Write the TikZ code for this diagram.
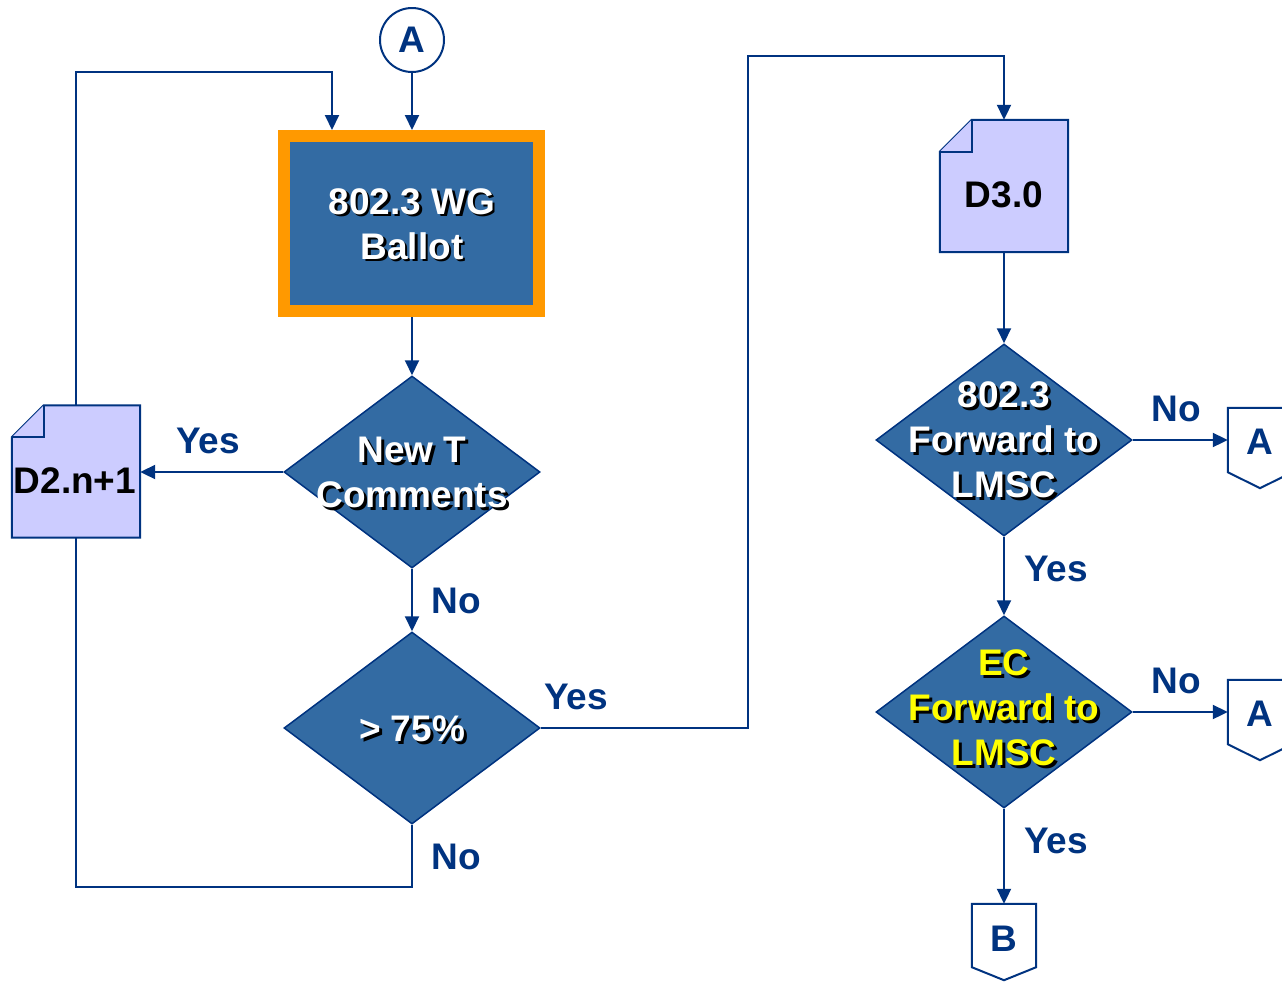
\documentclass[tikz,border=0pt]{standalone}
\usepackage{fontspec}
\setmainfont{Liberation Sans}
\usetikzlibrary{shapes.geometric,arrows.meta}
\definecolor{navy}{RGB}{0,51,128}
\definecolor{boxblue}{RGB}{51,107,163}
\definecolor{doclav}{RGB}{204,204,255}
\definecolor{orangeframe}{RGB}{255,153,0}
\definecolor{ecyellow}{RGB}{255,255,0}
\begin{document}
\begin{tikzpicture}[x=1pt,y=-1pt,
  big/.style={font=\fontsize{37}{45}\selectfont\bfseries},
  conn/.style={draw=navy,line width=2pt,-{Triangle[length=15pt,width=14pt]}},
  plainline/.style={draw=navy,line width=2pt},
  dia/.style={diamond,draw=navy,line width=1.5pt,fill=boxblue,inner sep=0pt,minimum width=256pt,minimum height=192pt},
  dtext/.style={big,align=center,text=white,inner sep=0pt},
  dshadow/.style={big,align=center,text=black,inner sep=0pt},
  lbl/.style={big,text=navy,inner sep=0pt},
  docbox/.style={draw=none,inner sep=0pt,minimum width=128pt,minimum height=132pt},
  docline/.style={draw=navy,line width=2pt,fill=doclav,line join=miter},
  offbox/.style={draw=none,inner sep=0pt},
  offline/.style={draw=navy,line width=2pt,fill=white},
]
\useasboundingbox[fill=white] (0,0) rectangle (1282,983);

% connector A (circle)
\node[circle,draw=navy,line width=2pt,minimum size=64pt,inner sep=0pt,big,text=navy] (ca) at (412,40) {A};

% ballot box
\node[draw=orangeframe,line width=12pt,fill=boxblue,minimum width=255pt,minimum height=175pt,inner sep=0pt] (bal) at (411.5,223.5) {};
\node[dshadow] (bals) at (414.5,226.5) {802.3 WG\\Ballot};
\node[dtext] (balt) at (412,224) {802.3 WG\\Ballot};

% diamonds
\node[dia] (d1) at (412,472) {};
\node[dshadow] (d1s) at (415,475.5) {New T\\Comments};
\node[dtext] (d1t) at (412,472.5) {New T\\Comments};

\node[dia] (d2) at (412,728) {};
\node[dshadow] (d2s) at (415,732) {> 75\%};
\node[dtext] (d2t) at (412,729) {> 75\%};

\node[dia] (d3) at (1004,440) {};
\node[dshadow] (d3s) at (1007,443) {802.3\\Forward to\\LMSC};
\node[dtext] (d3t) at (1004,440) {802.3\\Forward to\\LMSC};

\node[dia] (d4) at (1004,712) {};
\node[dshadow] (d4s) at (1007,711) {EC\\Forward to\\LMSC};
\node[dtext,text=ecyellow] (d4t) at (1004,708) {EC\\Forward to\\LMSC};

% documents
\node[docbox] (doc1) at (76,471.5) {};
\draw[docline] ([yshift=-32pt]doc1.north west) -- ([xshift=32pt]doc1.north west) -- (doc1.north east) -- (doc1.south east) -- (doc1.south west) -- cycle;
\draw[docline] ([xshift=32pt]doc1.north west) -- ([xshift=32pt,yshift=-32pt]doc1.north west) -- ([yshift=-32pt]doc1.north west);
\node[big,text=black,inner sep=0pt] (doc1t) at (75,481) {D2.n+1};

\node[docbox] (doc2) at (1004,186) {};
\draw[docline] ([yshift=-32pt]doc2.north west) -- ([xshift=32pt]doc2.north west) -- (doc2.north east) -- (doc2.south east) -- (doc2.south west) -- cycle;
\draw[docline] ([xshift=32pt]doc2.north west) -- ([xshift=32pt,yshift=-32pt]doc2.north west) -- ([yshift=-32pt]doc2.north west);
\node[big,text=black,inner sep=0pt] (doc2t) at (1004,195) {D3.0};

% off-page connectors
\node[offbox,minimum width=64pt,minimum height=80pt] (oa1) at (1260,448) {};
\draw[offline] (oa1.north west) -- (oa1.north east) -- ([yshift=16pt]oa1.south east) -- (oa1.south) -- ([yshift=16pt]oa1.south west) -- cycle;
\node[big,text=navy,inner sep=0pt] (oa1t) at (1260,442) {A};

\node[offbox,minimum width=64pt,minimum height=80pt] (oa2) at (1260,720) {};
\draw[offline] (oa2.north west) -- (oa2.north east) -- ([yshift=16pt]oa2.south east) -- (oa2.south) -- ([yshift=16pt]oa2.south west) -- cycle;
\node[big,text=navy,inner sep=0pt] (oa2t) at (1260,714) {A};

\node[offbox,minimum width=64pt,minimum height=76pt] (ob) at (1004,942) {};
\draw[offline] (ob.north west) -- (ob.north east) -- ([yshift=13pt]ob.south east) -- (ob.south) -- ([yshift=13pt]ob.south west) -- cycle;
\node[big,text=navy,inner sep=0pt] (obt) at (1004,939) {B};

% connectors
\coordinate (lp) at (332,72);
\coordinate (lb) at (76,887);
\coordinate (rt) at (748,56);
\draw[conn] (ca.south) -- (ca.south |- bal.north);
\draw[conn] (doc1.north) |- (lp) -- (lp |- bal.north);
\draw[conn] (bal.south -| d1.north) -- (d1.north);
\draw[conn] (d1.west) -- (d1.west -| doc1.east);
\draw[conn] (d1.south) -- (d2.north);
\draw[plainline] (d2.south) |- (lb) -- (doc1.south);
\draw[conn] (d2.east) -| (rt) -| (doc2.north);
\draw[conn] (doc2.south) -- (d3.north);
\draw[conn] (d3.east) -- (d3.east -| oa1.west);
\draw[conn] (d3.south) -- (d4.north);
\draw[conn] (d4.east) -- (d4.east -| oa2.west);
\draw[conn] (d4.south) -- (ob.north);

% labels
\node[lbl] (l1) at (208,441) {Yes};
\node[lbl] (l2) at (456,601) {No};
\node[lbl] (l3) at (576,697) {Yes};
\node[lbl] (l4) at (456,857) {No};
\node[lbl] (l5) at (1176,409) {No};
\node[lbl] (l6) at (1056,569) {Yes};
\node[lbl] (l7) at (1176,681) {No};
\node[lbl] (l8) at (1056,841) {Yes};
\end{tikzpicture}
\end{document}
